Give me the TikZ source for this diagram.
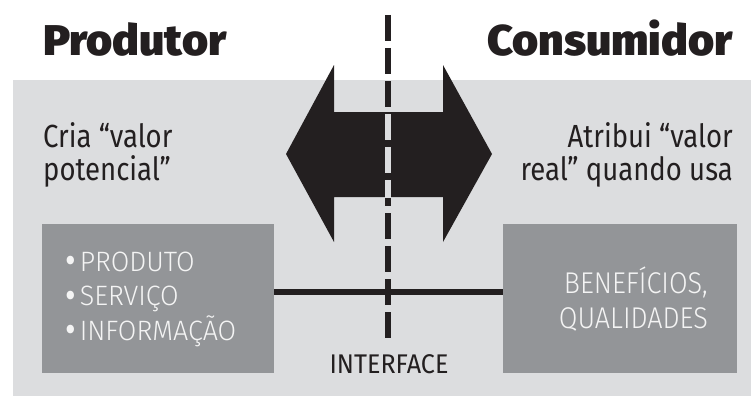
\documentclass[tikz,border=0pt]{standalone}
\usepackage{fontspec}
\setmainfont{Fira Sans}
\newfontfamily\titlefont{Fira Sans Black}[FakeStretch=1.04]
\newfontfamily\bodyfont{Fira Sans}[FakeStretch=0.86]
\newfontfamily\ifacefont{Fira Sans}[FakeStretch=0.93]
\newfontfamily\boxfont{Fira Sans Light}[FakeStretch=0.96]
\newfontfamily\valuefont{Fira Sans Light}[FakeStretch=0.9]
\usetikzlibrary{calc}
\definecolor{panel}{HTML}{DCDDDF}
\definecolor{boxgray}{HTML}{939598}
\definecolor{ink}{HTML}{231F20}
\definecolor{boxtxt}{HTML}{F4F4F4}

% list bullet: a little larger than the text's own, kept on the same height
\newcommand{\itemdot}{\raisebox{-2.5pt}{\bodyfont\fontsize{38}{30}\selectfont •}\hspace{4pt}}

\tikzset{
  heading/.style={font=\titlefont\fontsize{43}{46}\selectfont, text=ink, inner sep=0pt},
  remark/.style={font=\bodyfont\fontsize{32}{33}\selectfont, text=ink, inner sep=0pt},
  panelbox/.style={rectangle, fill=boxgray, draw=none, inner sep=0pt},
  boxlabel/.style={font=\boxfont\fontsize{28}{34.5}\selectfont, text=boxtxt, inner sep=0pt},
  divider/.style={line width=5.5pt, dash pattern=on 26pt off 7pt},
  link/.style={line width=5.5pt, draw=ink},
}

\begin{document}
\begin{tikzpicture}[x=1pt, y=-1pt]
  \useasboundingbox (0,0) rectangle (751,396);
  % light panel behind everything
  \fill[panel] (13,80) rectangle (751,396);

  % headings
  \node[heading, anchor=base west] (prod) at (43,56) {Produtor};
  \node[heading, anchor=base east] (cons) at (733,56) {Consumidor};

  % side remarks (base anchor sits on the last line)
  \node[remark, anchor=base west, align=left] (cria) at (43,180) {Cria “valor\\potencial”};
  \node[remark, anchor=base east, align=right] (atrib) at (733,180) {Atribui “valor\\real” quando usa};

  % the two boxes
  \node[panelbox, minimum width=232, minimum height=149] (lbox) at (158,298.5) {};
  \node[panelbox, minimum width=234, minimum height=149] (rbox) at (620,298.5) {};
  \node[boxlabel, anchor=base west, align=left] (oferta) at (65,340)
    {\itemdot PRODUTO\\\itemdot SERVIÇO\\\itemdot INFORMAÇÃO};
  \node[boxlabel, font=\valuefont\fontsize{30}{35}\selectfont, anchor=base east, align=right] (valor) at (708,328)
    {BENEFÍCIOS,\\QUALIDADES};

  % double arrow
  \fill[ink] (286,154) -- (334,65) -- (334,112) -- (443,112) -- (443,65)
    -- (492,154) -- (443,242) -- (443,197) -- (334,197) -- (334,242) -- cycle;

  % link between the boxes
  \coordinate (linky) at (0,292);
  \draw[link] (lbox.east |- linky) -- (rbox.west |- linky);

  % dashed interface line, light where it crosses the arrow shaft
  \coordinate (itop) at (388,15);
  \coordinate (ibot) at (388,338);
  \draw[divider, draw=ink] (itop) -- (ibot);
  \begin{scope}
    \clip (334,112) rectangle (443,197);
    \draw[divider, draw=panel] (itop) -- (ibot);
  \end{scope}

  \node[remark, font=\ifacefont\fontsize{27}{30}\selectfont, anchor=base] (iface) at (389,373) {INTERFACE};
\end{tikzpicture}
\end{document}
